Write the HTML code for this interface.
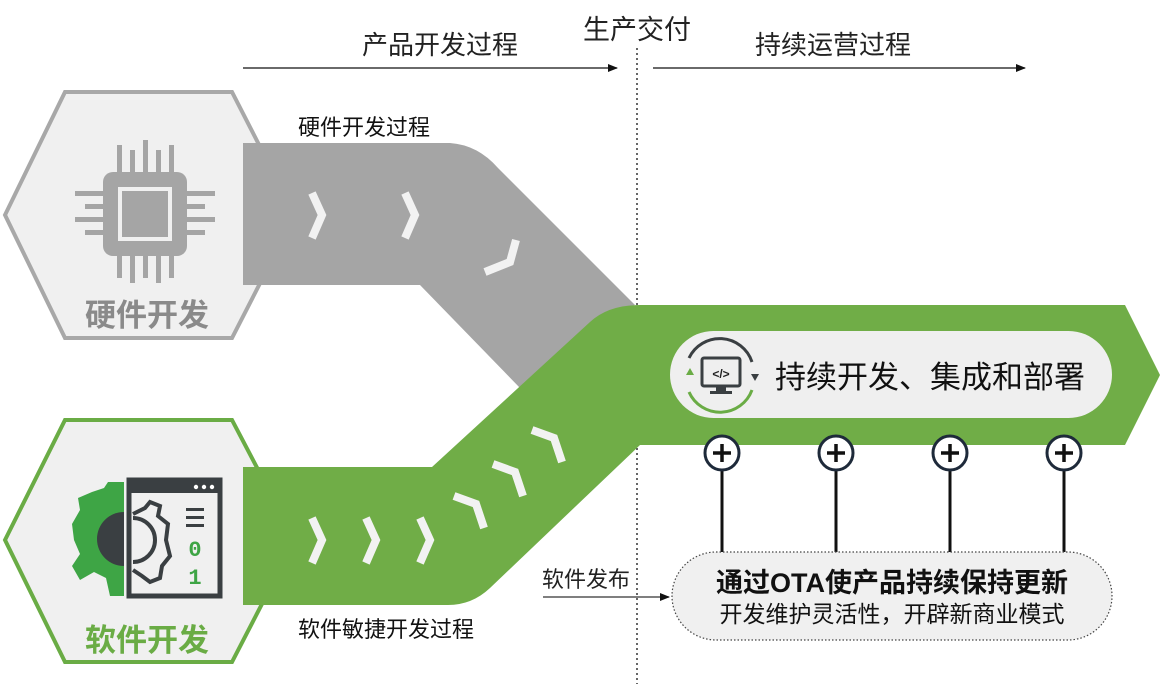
<!DOCTYPE html>
<html><head><meta charset="utf-8">
<style>
html,body{margin:0;padding:0;background:#fff;}
svg{display:block;font-family:"Liberation Sans","Noto Sans CJK SC",sans-serif;}
</style></head>
<body>
<svg width="1162" height="684" viewBox="0 0 1162 684" xmlns="http://www.w3.org/2000/svg">
<defs>
<marker id="ah" markerWidth="10" markerHeight="8" refX="9" refY="4" orient="auto" markerUnits="userSpaceOnUse">
<path d="M0,0 L10,4 L0,8 Z" fill="#111"/></marker>
</defs>
<!-- top labels -->
<text x="440" y="54" font-size="26" text-anchor="middle" fill="#222">产品开发过程</text>
<text x="637" y="39" font-size="27" text-anchor="middle" fill="#222">生产交付</text>
<text x="833" y="54" font-size="26" text-anchor="middle" fill="#222">持续运营过程</text>
<line x1="243" y1="68" x2="617" y2="68" stroke="#111" stroke-width="1.2" marker-end="url(#ah)"/>
<line x1="653" y1="68" x2="1025" y2="68" stroke="#111" stroke-width="1.2" marker-end="url(#ah)"/>
<line x1="637" y1="48" x2="637" y2="684" stroke="#333" stroke-width="1.5" stroke-dasharray="2,3"/>

<!-- hexes -->
<polygon points="5,215 65,92 232,92 295,215 232,338 65,338" fill="#f0f0f0" stroke="#a8a8a8" stroke-width="4"/>
<polygon points="5,540 65,420 232,420 295,540 232,662 65,662" fill="#f0f0f0" stroke="#6aac45" stroke-width="4"/>

<!-- gray band -->
<path d="M243,143 L450,143 Q478,145 498,168 L635,305 L600,320 L520,388 L420,285 L243,285 Z" fill="#a5a5a5"/>
<!-- green band -->
<path d="M243,467 L432,467 L590,322 Q608,305 640,305 L1125,305 L1160,375 L1125,445 L640,445 L490,588 Q472,605 448,605 L243,605 Z" fill="#70ad47"/>

<!-- chevrons gray -->
<g fill="none" stroke="#f2f2f2" stroke-width="8" stroke-linecap="butt">
<polyline points="312,193 322,215 312,238"/>
<polyline points="405,193 415,215 405,238"/>
<polyline points="516,240 510,262 485,272"/>
</g>
<!-- chevrons green -->
<g fill="none" stroke="#f2f2f2" stroke-width="8">
<polyline points="312,518 322,540 312,563"/>
<polyline points="366,518 376,540 366,563"/>
<polyline points="420,518 430,540 420,563"/>
<polyline points="454,496 476,504 484,528"/>
<polyline points="493,464 515,472 523,496"/>
<polyline points="532,430 554,438 562,462"/>
</g>

<!-- chip icon -->
<g fill="#a5a5a5">
<rect x="103" y="172" width="84" height="84" rx="10"/>
<rect x="118" y="187" width="54" height="54" fill="#f0f0f0"/>
<rect x="122" y="191" width="46" height="46"/>
<rect x="117" y="145" width="5" height="27"/><rect x="130" y="150" width="5" height="22"/><rect x="143" y="140" width="5" height="32"/><rect x="156" y="150" width="5" height="22"/><rect x="169" y="145" width="5" height="27"/>
<rect x="117" y="256" width="5" height="22"/><rect x="130" y="256" width="5" height="27"/><rect x="143" y="256" width="5" height="22"/><rect x="156" y="256" width="5" height="27"/><rect x="169" y="256" width="5" height="22"/>
<rect x="75" y="191" width="28" height="5"/><rect x="85" y="204" width="18" height="5"/><rect x="75" y="217" width="28" height="5"/><rect x="85" y="230" width="18" height="5"/>
<rect x="187" y="191" width="28" height="5"/><rect x="187" y="204" width="18" height="5"/><rect x="187" y="217" width="28" height="5"/><rect x="187" y="230" width="18" height="5"/>
</g>
<text x="147" y="326" font-size="31" font-weight="bold" text-anchor="middle" fill="#8a8a8a">硬件开发</text>

<!-- software icon -->
<path d="M124,482 L124,596 L110,596 L106,578 L94,572 L80,580 L72,566 L80,554 L74,540 L72,524 L80,510 L78,498 L92,492 L104,488 L108,482 Z" fill="#3ea545"/>
<path d="M124,512 A26,26 0 0 0 124,566 Z" fill="#3a3f42"/>
<rect x="129" y="480" width="91" height="116" fill="none" stroke="#3a3f42" stroke-width="5"/>
<rect x="129" y="480" width="91" height="13" fill="#3a3f42"/>
<circle cx="196" cy="487" r="2.2" fill="#fff"/><circle cx="204" cy="487" r="2.2" fill="#fff"/><circle cx="212" cy="487" r="2.2" fill="#fff"/>
<path d="M133,514 L145,508 L150,502 L160,506 L158,516 L168,524 L166,540 L170,556 L162,566 L160,578 L150,582 L142,576 L133,570" fill="none" stroke="#3a3f42" stroke-width="4"/>
<path d="M133,518 A22,22 0 0 1 133,562" fill="none" stroke="#3a3f42" stroke-width="4"/>
<rect x="186" y="508" width="18" height="3" fill="#3a3f42"/><rect x="186" y="516" width="18" height="3" fill="#3a3f42"/><rect x="186" y="524" width="18" height="3" fill="#3a3f42"/>
<text x="195" y="556" font-size="22" font-weight="bold" text-anchor="middle" fill="#3ea545" font-family="Liberation Mono, monospace">0</text>
<text x="195" y="584" font-size="22" font-weight="bold" text-anchor="middle" fill="#3ea545" font-family="Liberation Mono, monospace">1</text>
<text x="147" y="651" font-size="31" font-weight="bold" text-anchor="middle" fill="#6aac45">软件开发</text>

<!-- band labels -->
<text x="298" y="135" font-size="22" fill="#111">硬件开发过程</text>
<text x="298" y="637" font-size="22" fill="#111">软件敏捷开发过程</text>
<text x="542" y="587" font-size="22" fill="#222">软件发布</text>
<line x1="543" y1="597" x2="669" y2="597" stroke="#333" stroke-width="1.2" marker-end="url(#ah)"/>

<!-- pill -->
<rect x="670" y="331" width="442" height="87" rx="43.5" fill="#efefef"/>
<path d="M689,358 A34,34 0 0 1 752,362" fill="none" stroke="#3a3f42" stroke-width="3"/>
<path d="M689,392 A34,34 0 0 0 752,390" fill="none" stroke="#6aac45" stroke-width="3"/>
<polygon points="686,375 690,368 694,375" fill="#6aac45"/>
<polygon points="751,374 755,381 759,374" fill="#3a3f42"/>
<rect x="702" y="358" width="38" height="28" rx="2" fill="none" stroke="#3a3f42" stroke-width="3"/>
<rect x="716" y="386" width="10" height="5" fill="#3a3f42"/>
<rect x="710" y="391" width="22" height="3" fill="#3a3f42"/>
<text x="721" y="378" font-size="12" text-anchor="middle" fill="#222" font-weight="bold">&lt;/&gt;</text>
<text x="775" y="388" font-size="31" fill="#111">持续开发、集成和部署</text>

<!-- plus connectors -->
<g stroke="#111" stroke-width="3">
<line x1="722" y1="470" x2="722" y2="552"/><line x1="836" y1="470" x2="836" y2="552"/>
<line x1="950" y1="470" x2="950" y2="552"/><line x1="1064" y1="470" x2="1064" y2="552"/>
</g>
<g fill="#fff" stroke="#1e2a3a" stroke-width="3">
<circle cx="722" cy="453" r="17"/><circle cx="836" cy="453" r="17"/><circle cx="950" cy="453" r="17"/><circle cx="1064" cy="453" r="17"/>
</g>
<g stroke="#111" stroke-width="3.5">
<path d="M713,453 H731 M722,444 V462"/><path d="M827,453 H845 M836,444 V462"/>
<path d="M941,453 H959 M950,444 V462"/><path d="M1055,453 H1073 M1064,444 V462"/>
</g>

<!-- bottom pill -->
<rect x="672" y="552" width="440" height="88" rx="44" fill="#f0f0f0" stroke="#444" stroke-width="1.2" stroke-dasharray="1.5,2"/>
<text x="892" y="592" font-size="27" font-weight="bold" text-anchor="middle" fill="#111">通过OTA使产品持续保持更新</text>
<text x="892" y="622" font-size="23" text-anchor="middle" fill="#111">开发维护灵活性，开辟新商业模式</text>
</svg>
</body></html>
